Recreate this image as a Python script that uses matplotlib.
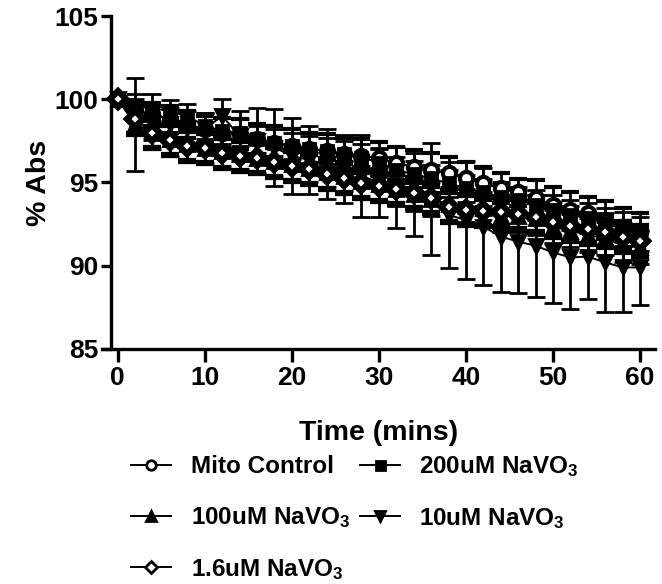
# -*- coding:utf-8 -*-
import numpy as np
import matplotlib
matplotlib.use("Agg")
import matplotlib.pyplot as plt

plt.rcParams['font.family'] = ['Liberation Sans', 'DejaVu Sans']
plt.rcParams['font.weight'] = 'bold'
plt.rcParams['mathtext.fontset'] = 'custom'
plt.rcParams['mathtext.rm'] = 'Liberation Sans:bold'
plt.rcParams['mathtext.it'] = 'Liberation Sans:bold'
plt.rcParams['mathtext.bf'] = 'Liberation Sans:bold'

# time points (mins)
time = np.arange(0, 61, 2)

# mean % Abs for each group
mito_control = [100, 99.3, 99.1, 98.8, 98.5, 98.2, 98.0, 97.9, 97.6, 97.4, 97.2,
                97.0, 96.9, 96.7, 96.6, 96.45, 96.15, 95.95, 95.75, 95.55, 95.25,
                94.95, 94.65, 94.4, 94.05, 93.65, 93.35, 93.15, 92.75, 92.25, 91.95]
navo_200 = [100, 99.6, 99.5, 99.25, 99.0, 98.4, 98.1, 98.0, 97.6, 97.4, 97.2,
            97.0, 96.9, 96.7, 96.5, 96.2, 95.75, 95.5, 95.25, 94.95, 94.65,
            94.4, 94.1, 93.95, 93.65, 93.35, 93.05, 92.85, 92.55, 92.2, 91.9]
navo_100 = [100, 98.5, 98.0, 97.6, 97.3, 97.1, 96.9, 96.7, 96.5, 96.3, 96.1,
            95.9, 95.65, 95.4, 95.1, 94.9, 94.6, 94.3, 94.0, 93.7, 93.6,
            93.45, 93.0, 93.0, 92.85, 92.35, 92.1, 91.85, 91.65, 91.2, 91.1]
navo_10 = [100, 99.0, 98.6, 98.5, 98.3, 98.2, 99.0, 97.8, 97.5, 97.1, 96.6,
           96.35, 96.1, 95.8, 95.4, 95.0, 94.7, 94.3, 94.0, 93.05, 92.75,
           92.35, 91.75, 91.45, 91.2, 90.8, 90.5, 90.55, 90.2, 89.9, 89.9]
navo_1_6 = [100, 98.8, 97.95, 97.55, 97.2, 97.1, 96.8, 96.6, 96.45, 96.25, 96.0,
            95.8, 95.5, 95.25, 94.95, 94.8, 94.6, 94.35, 94.05, 93.5, 93.35,
            93.3, 93.2, 93.1, 92.9, 92.6, 92.4, 92.2, 92.0, 91.7, 91.5]

# error bars (SD)
mito_control_sd = [0, 0.6, 0.7, 0.8, 0.8, 0.8, 0.9, 0.9, 0.9, 1.0, 1.0,
                   1.0, 1.0, 1.0, 1.0, 1.0, 1.0, 1.0, 1.0, 1.0, 1.0,
                   1.0, 0.9, 0.8, 1.1, 1.05, 1.05, 0.95, 1.15, 1.2, 1.2]
navo_200_sd = [0, 0.7, 0.8, 0.7, 0.7, 0.8, 0.8, 0.8, 0.8, 0.8, 0.8,
               0.8, 0.8, 0.8, 0.8, 0.8, 0.8, 0.8, 0.8, 0.8, 0.8,
               0.8, 0.8, 0.8, 0.9, 0.9, 0.9, 0.9, 0.9, 1.0, 1.0]
navo_100_sd = [0, 2.8, 1.0, 1.0, 1.0, 0.9, 0.9, 0.9, 0.9, 0.9, 0.9,
               0.9, 0.9, 0.9, 0.9, 1.0, 1.0, 1.0, 1.0, 1.0, 1.0,
               1.0, 1.0, 1.0, 1.0, 1.0, 1.0, 1.0, 1.0, 1.0, 1.0]
navo_10_sd = [0, 1.0, 1.0, 1.0, 1.0, 1.0, 1.0, 1.5, 2.0, 2.3, 2.3,
              2.05, 2.1, 2.05, 2.45, 2.1, 2.45, 2.5, 3.35, 3.2, 3.55,
              3.5, 3.3, 3.1, 3.05, 3.05, 3.1, 2.55, 2.95, 2.65, 2.25]
navo_1_6_sd = [0, 0.9, 0.9, 0.9, 0.9, 0.9, 0.9, 0.9, 0.9, 0.9, 0.9,
               0.9, 0.9, 0.9, 0.9, 0.9, 0.9, 0.9, 0.9, 0.9, 0.9,
               0.9, 0.9, 0.9, 0.9, 0.9, 0.9, 0.9, 0.9, 0.9, 0.9]

labels = ['Mito Control', '200uM NaVO$_3$', '100uM NaVO$_3$',
          '10uM NaVO$_3$', '1.6uM NaVO$_3$']


def main():
    fig = plt.figure(figsize=(6.62, 5.84), dpi=100)
    ax = fig.add_axes([0.154, 0.4024, 0.8353, 0.5702])

    series = [
        (mito_control, mito_control_sd, 'o', 'white', 9.5, 3.0),
        (navo_200, navo_200_sd, 's', 'black', 9.0, 2.0),
        (navo_100, navo_100_sd, '^', 'black', 9.5, 2.0),
        (navo_10, navo_10_sd, 'v', 'black', 9.5, 2.0),
        (navo_1_6, navo_1_6_sd, 'D', 'white', 8.5, 4.5),
    ]
    handles = []
    for (vals, sd, mk, fc, ms, mew), lab in zip(series, labels):
        h = ax.errorbar(time, vals, yerr=sd, color='black', lw=1.4,
                        elinewidth=2.0, capsize=6.5, capthick=2.0,
                        marker=mk, ms=ms, mfc=fc, mec='black', mew=mew,
                        label=lab)
        handles.append(h[0])

    ax.set_xlim(-1.8, 61.7)
    ax.set_ylim(85, 105)
    ax.set_xticks(np.arange(0, 61, 10))
    ax.set_yticks(np.arange(85, 106, 5))
    ax.spines['top'].set_visible(False)
    ax.spines['right'].set_visible(False)
    ax.spines['left'].set_position(('data', -0.8))
    for s in ['left', 'bottom']:
        ax.spines[s].set_linewidth(2.4)
    ax.tick_params(axis='both', width=2.4, labelsize=19)
    ax.tick_params(axis='x', length=9, pad=3)
    ax.tick_params(axis='y', length=7, pad=2)

    ax.set_xlabel('Time (mins)', fontsize=20.5, fontweight='bold', labelpad=22)
    ax.set_ylabel('% Abs', fontsize=20.5, fontweight='bold', labelpad=2)

    order = [0, 2, 4, 1, 3]
    leg = fig.legend([handles[i] for i in order], [labels[i] for i in order],
                     loc='upper left', bbox_to_anchor=(0.198, 0.222), ncol=2,
                     frameon=False, fontsize=17.5, handlelength=1.65,
                     handletextpad=0.8, columnspacing=0.4, labelspacing=1.1,
                     borderpad=0, borderaxespad=0, markerscale=0.72)
    for lh in leg.legend_handles:
        lh.set_markeredgewidth(2.0)

    fig.savefig('out.png', dpi=100)


if __name__ == '__main__':
    main()
